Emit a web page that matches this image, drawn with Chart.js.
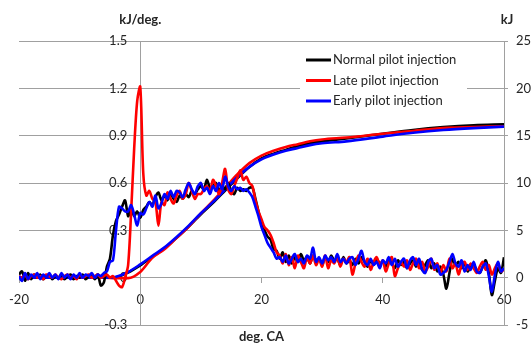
<!DOCTYPE html>
<html>
<head>
<meta charset="utf-8">
<script src="https://cdn.jsdelivr.net/npm/chart.js@4.4.1/dist/chart.umd.min.js"></script>
<style>
  html, body { margin: 0; padding: 0; background: #fff; }
</style>
</head>
<body>
<canvas id="chart" width="531" height="343"></canvas>
<script>
// Crank angle grid for the heat release rate traces (0.5 deg sampling)
const crankAngle = [];
for (let a = -20; a <= 60; a += 0.5) crankAngle.push(a);

// Heat release rate, kJ/deg. (one row = 5 deg, 10 samples)
const hrrNormal = [
  0.02, 0.04, -0.02, 0.03, -0.01, 0.02, 0.00, 0.02, -0.01, 0.01,
  0.02, -0.01, 0.01, 0.00, 0.02, -0.01, 0.01, 0.02, -0.01, 0.01,
  0.00, 0.02, -0.01, 0.01, 0.02, -0.01, 0.02, -0.05, -0.03, 0.07,
  0.12, 0.27, 0.36, 0.40, 0.45, 0.49, 0.39, 0.44, 0.39, 0.42,
  0.38, 0.43, 0.45, 0.48, 0.46, 0.51, 0.54, 0.49, 0.52, 0.49,
  0.53, 0.50, 0.48, 0.52, 0.50, 0.53, 0.51, 0.55, 0.53, 0.56,
  0.58, 0.56, 0.62, 0.57, 0.58, 0.60, 0.55, 0.58, 0.56, 0.60,
  0.55, 0.53, 0.57, 0.55, 0.56, 0.55, 0.57, 0.57, 0.50, 0.42,
  0.35, 0.30, 0.26, 0.24, 0.18, 0.17, 0.12, 0.16, 0.10, 0.14,
  0.09, 0.13, 0.10, 0.15, 0.11, 0.13, 0.09, 0.14, 0.11, 0.12,
  0.08, 0.13, 0.10, 0.14, 0.11, 0.12, 0.08, 0.13, 0.09, 0.11,
  0.08, 0.12, 0.09, 0.13, 0.10, 0.07, 0.11, 0.08, 0.12, 0.09,
  0.10, 0.07, 0.12, 0.09, 0.06, 0.11, 0.08, 0.10, 0.06, 0.09,
  0.11, 0.07, 0.10, 0.05, 0.08, 0.11, 0.06, 0.09, 0.04, 0.07,
  0.02, -0.07, 0.03, 0.12, 0.08, 0.10, 0.06, 0.09, 0.04, 0.07,
  0.08, 0.05, 0.03, 0.07, 0.11, 0.03, -0.11, -0.02, 0.06, 0.03,
  0.13
];
const hrrLate = [
  0.01, 0.00, 0.02, -0.01, 0.01, 0.02, 0.00, 0.01, -0.01, 0.02,
  0.01, 0.00, 0.02, 0.00, -0.01, 0.01, 0.02, 0.00, 0.01, -0.01,
  0.02, 0.00, 0.01, 0.02, 0.00, 0.01, 0.02, 0.00, 0.01, 0.02,
  0.00, 0.01, -0.02, -0.05, -0.06, 0.00, 0.08, 0.42, 0.82, 1.12,
  1.21, 0.66, 0.52, 0.55, 0.50, 0.48, 0.33, 0.48, 0.46, 0.54,
  0.50, 0.47, 0.52, 0.55, 0.50, 0.53, 0.60, 0.55, 0.50, 0.53,
  0.53, 0.56, 0.58, 0.55, 0.62, 0.58, 0.53, 0.60, 0.69, 0.56,
  0.53, 0.58, 0.63, 0.68, 0.62, 0.64, 0.60, 0.58, 0.49, 0.42,
  0.37, 0.32, 0.30, 0.27, 0.22, 0.16, 0.14, 0.09, 0.15, 0.08,
  0.13, 0.06, 0.14, 0.10, 0.06, 0.13, 0.09, 0.14, 0.08, 0.12,
  0.07, 0.14, 0.06, 0.11, 0.09, 0.13, 0.07, 0.12, 0.10, 0.13,
  0.02, 0.09, 0.14, 0.10, 0.07, 0.12, 0.05, 0.10, 0.13, 0.08,
  0.11, 0.04, 0.09, 0.13, 0.01, 0.06, 0.10, 0.07, 0.11, 0.05,
  0.09, 0.12, 0.06, 0.10, 0.04, 0.07, 0.12, 0.05, 0.09, 0.03,
  0.08, 0.04, 0.12, 0.06, 0.09, 0.02, 0.08, 0.10, 0.05, 0.09,
  0.06, 0.03, 0.07, 0.10, 0.05, 0.08, 0.02, 0.06, 0.09, 0.04,
  0.05
];
const hrrEarly = [
  0.01, -0.02, 0.03, -0.01, 0.02, 0.00, 0.03, -0.01, 0.02, 0.00,
  0.03, 0.00, 0.02, -0.01, 0.03, 0.00, 0.02, -0.01, 0.02, 0.00,
  0.03, 0.00, 0.02, 0.01, 0.03, 0.00, 0.02, 0.01, 0.03, 0.04,
  0.10, 0.11, 0.30, 0.45, 0.44, 0.42, 0.42, 0.46, 0.40, 0.33,
  0.41, 0.40, 0.44, 0.48, 0.45, 0.52, 0.44, 0.47, 0.53, 0.50,
  0.55, 0.51, 0.55, 0.54, 0.51, 0.56, 0.60, 0.56, 0.53, 0.58,
  0.60, 0.55, 0.57, 0.53, 0.58, 0.55, 0.60, 0.56, 0.64, 0.58,
  0.55, 0.58, 0.56, 0.57, 0.55, 0.56, 0.54, 0.51, 0.45, 0.39,
  0.32, 0.27, 0.22, 0.19, 0.16, 0.12, 0.13, 0.10, 0.14, 0.09,
  0.12, 0.15, 0.10, 0.12, 0.09, 0.14, 0.12, 0.19, 0.10, 0.13,
  0.09, 0.14, 0.11, 0.13, 0.10, 0.15, 0.10, 0.12, 0.09, 0.12,
  0.13, 0.08, 0.12, 0.17, 0.10, 0.08, 0.12, 0.08, 0.10, 0.06,
  0.11, 0.09, 0.13, 0.08, 0.12, 0.07, 0.10, 0.12, 0.06, 0.11,
  0.13, 0.08, 0.12, 0.05, 0.03, 0.10, 0.12, 0.06, 0.08, 0.02,
  0.03, 0.05, 0.10, 0.15, 0.09, 0.07, 0.11, 0.04, 0.08, 0.05,
  0.10, 0.04, 0.03, 0.07, 0.09, 0.01, -0.09, 0.02, 0.10, 0.04,
  0.06
];

// Cumulative heat release, kJ
const cumAngle  = [-20, -10, -6, -4, -2, 0, 2, 4, 6, 8, 10, 12, 14, 16, 18, 20, 22, 24, 26, 28, 30, 34, 40, 45, 50, 55, 60];
const cumNormal = [0, 0, 0, 0.05, 0.55, 1.3, 2.2, 3.1, 4.2, 5.4, 6.7, 7.9, 9.2, 10.5, 11.7, 12.6, 13.1, 13.5, 13.9, 14.2, 14.4, 14.7, 15.2, 15.6, 15.9, 16.1, 16.2];
const cumLate   = [0, 0, 0, -0.05, -0.05, 0.6, 2.1, 3.0, 4.2, 5.4, 6.8, 8.1, 9.5, 10.9, 12.1, 12.9, 13.4, 13.8, 14.1, 14.4, 14.6, 14.8, 15.2, 15.5, 15.8, 15.9, 16.0];
const cumEarly  = [0, 0, 0, 0.1, 0.6, 1.4, 2.3, 3.2, 4.3, 5.5, 6.8, 8.0, 9.3, 10.6, 11.7, 12.5, 13.0, 13.4, 13.7, 14.0, 14.2, 14.4, 14.9, 15.3, 15.6, 15.8, 15.95];

const seriesNames  = ['Normal pilot injection', 'Late pilot injection', 'Early pilot injection'];
const seriesColors = ['#000000', '#ff0000', '#0000ff'];

const leftTitle = 'kJ/deg.';
const rightTitle = 'kJ';
const bottomTitle = 'deg. CA';

const tickFont = { family: 'Lato', size: 13 };
const textColor = '#262626';
const axisGray = '#a0a0a0';

function toPoints(xs, ys) {
    return ys.map((v, i) => ({ x: xs[i], y: v }));
}

const hrrSets = [hrrNormal, hrrLate, hrrEarly];
const cumSets = [cumNormal, cumLate, cumEarly];
const drawOrder = [2, 1, 0]; // blue on top, then red, then black

const datasets = [];
hrrSets.forEach((vals, i) => {
    datasets.push({
        label: seriesNames[i],
        data: toPoints(crankAngle, vals),
        borderColor: seriesColors[i],
        borderWidth: 2.6,
        pointRadius: 0,
        tension: 0.3,
        yAxisID: 'y',
        order: drawOrder[i]
    });
});
cumSets.forEach((vals, i) => {
    datasets.push({
        label: seriesNames[i] + ' (cumulative)',
        data: toPoints(cumAngle, vals),
        borderColor: seriesColors[i],
        borderWidth: 2.6,
        pointRadius: 0,
        tension: 0.4,
        cubicInterpolationMode: 'monotone',
        yAxisID: 'y2',
        order: drawOrder[i] + 3
    });
});

// Excel puts the left tick labels beside the axis at x = 0, under the curves
const leftTicks = {
    id: 'leftTicks',
    beforeDatasetsDraw(chart) {
        const ctx = chart.ctx;
        const yScale = chart.scales.y;
        const axisX = chart.scales.x.getPixelForValue(0);
        ctx.save();
        ctx.fillStyle = textColor;
        ctx.font = '13px Lato';
        ctx.textAlign = 'right';
        ctx.textBaseline = 'middle';
        yScale.ticks.forEach(t => {
            ctx.fillText(t.label, axisX - 13, yScale.getPixelForValue(t.value));
        });
        ctx.restore();
    }
};

// Axis titles and a boxed legend
const decorations = {
    id: 'decorations',
    afterDatasetsDraw(chart) {
        const ctx = chart.ctx;
        const area = chart.chartArea;
        const axisX = chart.scales.x.getPixelForValue(0);
        ctx.save();
        ctx.fillStyle = textColor;
        ctx.font = 'bold 13px Lato';
        ctx.textAlign = 'center';
        ctx.textBaseline = 'middle';
        ctx.fillText(leftTitle, axisX, 20);
        ctx.fillText(rightTitle, area.right + 3, 20);
        ctx.fillText(bottomTitle, (area.left + area.right) / 2, 337);

        // legend
        const lx = 300, ly = 49, lw = 167, lh = 63;
        ctx.fillStyle = '#ffffff';
        ctx.fillRect(lx, ly, lw, lh);
        ctx.font = '13px Lato';
        ctx.textAlign = 'left';
        seriesNames.forEach((name, i) => {
            const y = 60 + i * 20.5;
            ctx.strokeStyle = seriesColors[i];
            ctx.lineWidth = 3;
            ctx.beginPath();
            ctx.moveTo(306, y);
            ctx.lineTo(331, y);
            ctx.stroke();
            ctx.fillStyle = textColor;
            ctx.fillText(name, 333, y);
        });
        ctx.restore();
    }
};

new Chart(document.getElementById('chart'), {
    type: 'line',
    data: { datasets: datasets },
    plugins: [leftTicks, decorations],
    options: {
        responsive: false,
        animation: false,
        layout: { padding: { left: 19, top: 41, right: 0, bottom: 18 } },
        plugins: {
            legend: { display: false },
            tooltip: { enabled: false }
        },
        scales: {
            x: {
                type: 'linear',
                min: -20,
                max: 60,
                position: { y: 0 },
                ticks: { stepSize: 20, font: tickFont, color: textColor, padding: 9, maxRotation: 0 },
                grid: { drawOnChartArea: false, drawTicks: true, tickLength: 5, color: axisGray },
                border: { color: axisGray, width: 1 }
            },
            y: {
                type: 'linear',
                min: -0.3,
                max: 1.5,
                position: { x: 0 },
                ticks: { stepSize: 0.3, display: false },
                grid: { color: axisGray, drawTicks: false },
                border: { color: axisGray, width: 1 }
            },
            y2: {
                type: 'linear',
                min: -5,
                max: 25,
                position: 'right',
                ticks: { stepSize: 5, font: tickFont, color: textColor, padding: 8 },
                grid: { drawOnChartArea: false, tickLength: 4, color: axisGray },
                border: { color: axisGray, width: 1 },
                afterFit(scale) { scale.width = 27; }
            }
        }
    }
});
</script>
</body>
</html>
